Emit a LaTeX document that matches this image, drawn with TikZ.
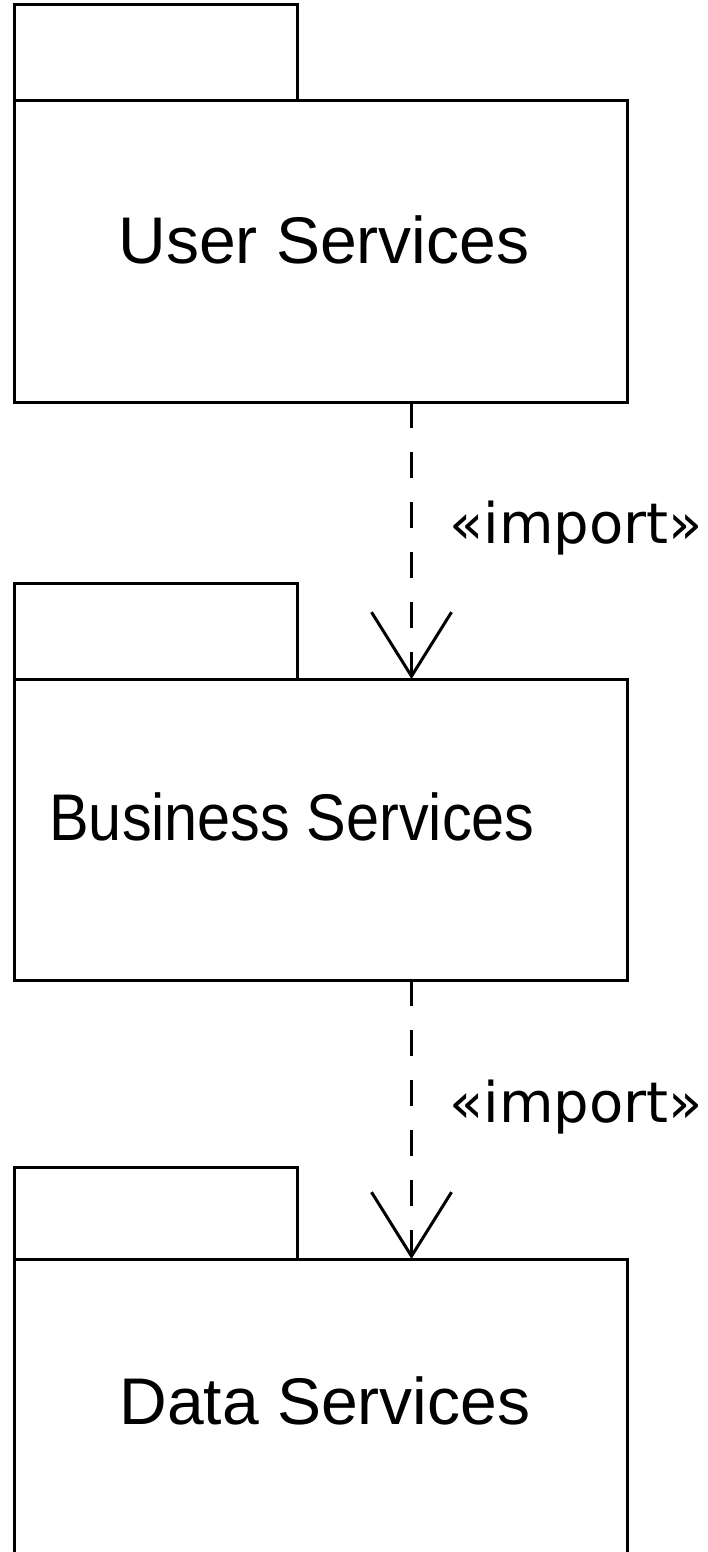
\documentclass[tikz,border=0pt]{standalone}
\usepackage{fontspec}
\setmainfont{Liberation Sans}
\newfontfamily\stereofont{DejaVu Sans}
\usetikzlibrary{arrows.meta,positioning}
\tikzset{
  pkg/.style={draw, line width=3pt, inner sep=0pt, outer sep=0pt,
              minimum width=613pt, minimum height=301pt},
  tab/.style={draw, line width=3pt, inner sep=0pt, outer sep=0pt,
              minimum width=283pt, minimum height=96pt},
  pkgname/.style={font=\fontsize{66}{79}\selectfont, inner sep=0pt, anchor=base},
  stereo/.style={font=\stereofont\fontsize{56}{67}\selectfont, inner sep=0pt, anchor=base west},
  dep/.style={line width=3pt, dash pattern=on 26pt off 24pt,
              -{Straight Barb[length=64pt, width=80pt]}},
}

\begin{document}
\begin{tikzpicture}[x=1pt, y=-1pt]
    \useasboundingbox (0,0) rectangle (707,1552);
    \node[pkg, anchor=north west] (userpkg) at (14,101) {};
    \node[tab, anchor=south west] (usertab) at (userpkg.north west) {};
    \node[pkgname] (usertxt) at (324,263) {User Services};
    \node[pkg, below=277pt of userpkg.south west, anchor=north west] (bizpkg) {};
    \node[tab, anchor=south west] (biztab) at (bizpkg.north west) {};
    \node[pkgname] (biztxt) at (292,840) {\scalebox{0.9}[1]{Business Services}};
    \node[pkg, below=279pt of bizpkg.south west, anchor=north west] (datapkg) {};
    \node[tab, minimum height=92pt, anchor=south west] (datatab) at (datapkg.north west) {};
    \node[pkgname] (datatxt) at (325,1424) {Data Services};
    \draw[dep] ([xshift=91pt]userpkg.south) -- ([xshift=91pt]bizpkg.north);
    \draw[dep] ([xshift=91pt]bizpkg.south) -- ([xshift=91pt]datapkg.north);
    \node[stereo] (imp1) at (449,543) {«import»};
    \node[stereo] (imp2) at (449,1122) {«import»};
  \end{tikzpicture}
\end{document}
